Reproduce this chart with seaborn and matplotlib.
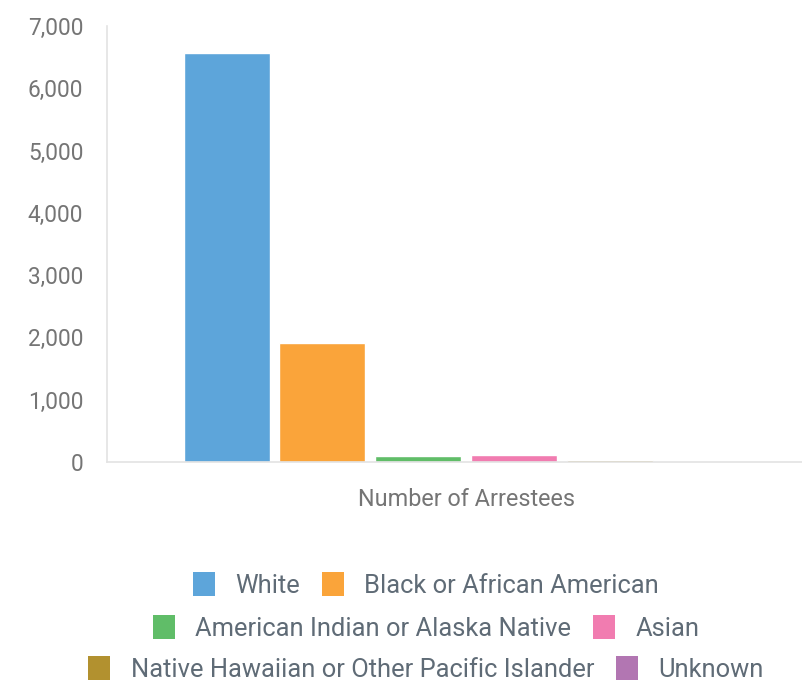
import matplotlib
matplotlib.use("Agg")
import matplotlib.pyplot as plt
import matplotlib.ticker as mticker
from matplotlib.patches import Patch
import seaborn as sns
import pandas as pd

# data
races = ["White", "Black or African American", "American Indian or Alaska Native",
         "Asian", "Native Hawaiian or Other Pacific Islander", "Unknown"]
arrestees = [6570, 1910, 90, 105, 25, 0]
colors = ["#5DA5DA", "#FAA43A", "#60BD68", "#F17CB0", "#B2912F", "#B276B2"]
category = "Number of Arrestees"
y_ticks = [0, 1000, 2000, 3000, 4000, 5000, 6000, 7000]

df = pd.DataFrame({"metric": [category] * len(races), "race": races, "count": arrestees})

sns.set_theme(style="white")
plt.rcParams["font.family"] = ["Roboto", "DejaVu Sans"]

W, H = 803, 687
fig = plt.figure(figsize=(W / 100, H / 100), dpi=100)
ax = fig.add_axes([107 / W, 1 - 462 / H, (825 - 107) / W, (462 - 26) / H])

sns.barplot(data=df, x="metric", y="count", hue="race", hue_order=races,
            palette=colors, width=0.8, gap=0.1, saturation=1, legend=False, ax=ax)

ax.set_ylim(0, 7000)
ax.set_yticks(y_ticks)
ax.yaxis.set_major_formatter(mticker.FuncFormatter(lambda v, p: f"{int(v):,}"))
ax.set_xlabel("")
ax.set_ylabel("")
ax.tick_params(axis="y", length=0, pad=17, labelsize=16.3, labelcolor="#757575")
ax.tick_params(axis="x", length=0, pad=19, labelsize=16.8, labelcolor="#757575")
for side in ["top", "right"]:
    ax.spines[side].set_visible(False)
for side in ["left", "bottom"]:
    ax.spines[side].set_color("#e3e3e3")
    ax.spines[side].set_linewidth(1.2)

# legend: three centered rows of two entries
rows = [(0, 1), (2, 3), (4, 5)]
row_y = [1 - 585 / H, 1 - 628 / H, 1 - 669 / H]
for (a, b), yy in zip(rows, row_y):
    handles = [Patch(facecolor=colors[i], edgecolor="none", label=races[i]) for i in (a, b)]
    leg = fig.legend(handles=handles, loc="center", bbox_to_anchor=(426 / W, yy), ncol=2,
                     frameon=False, fontsize=18.4, handlelength=0.86, handleheight=1.05,
                     handletextpad=0.8, columnspacing=0.85, borderpad=0)
    for t in leg.get_texts():
        t.set_color("#5f6b76")

fig.savefig("out.png", dpi=100)
